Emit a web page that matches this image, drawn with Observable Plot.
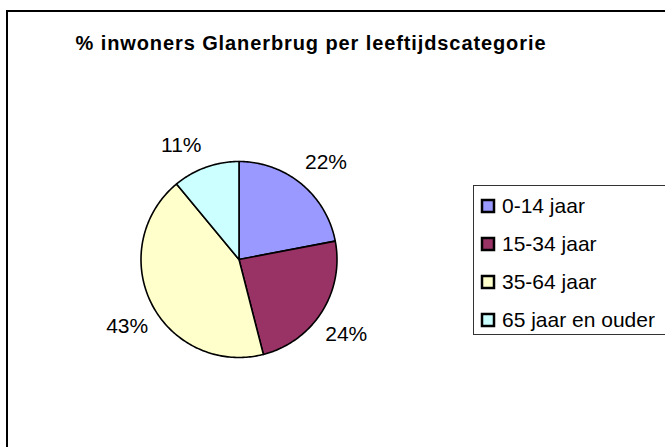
<!DOCTYPE html>
<html><head><meta charset="utf-8">
<script src="https://cdn.jsdelivr.net/npm/d3@7"></script>
<script src="https://cdn.jsdelivr.net/npm/@observablehq/plot@0.6"></script>
<style>
html,body{margin:0;padding:0;background:#fff;overflow:hidden;}
#wrap{position:relative;width:665px;height:447px;overflow:hidden;font-family:"Liberation Sans",Arial,sans-serif;}
#frame{position:absolute;left:6px;top:10px;width:720px;height:500px;border:2px solid #000;box-sizing:border-box;}
#title{position:absolute;left:0;top:31px;width:622px;text-align:center;font-weight:bold;font-size:20px;line-height:24px;letter-spacing:0.9px;color:#000;}
#chart{position:absolute;left:0;top:0;}
#legend{position:absolute;left:473px;top:185px;width:210px;height:150px;border:1px solid #333;box-sizing:border-box;padding:1px 0 0 8px;background:#fff;}
#legend .lg-swatches{font-family:"Liberation Sans",Arial,sans-serif;font-size:21px;margin:0;color:#000;}
#legend .lg-swatch{height:38px;display:flex;align-items:center;padding:0;margin:0;white-space:nowrap;}
#legend .lg-swatch svg{margin-right:8px;}
#legend svg rect{stroke:#000;stroke-width:2.5px;}
</style></head>
<body>
<div id="wrap">
  <div id="frame"></div>
  <div id="chart"></div>
  <div id="title">% inwoners Glanerbrug per leeftijdscategorie</div>
  <div id="legend"></div>
</div>
<script>
const categories = ["0-14 jaar", "15-34 jaar", "35-64 jaar", "65 jaar en ouder"];
const values = [22, 24, 43, 11];
const labels = ["22%", "24%", "43%", "11%"];
const colors = ["#9999FF", "#993366", "#FFFFCC", "#CCFFFF"];

const arcs = d3.pie().sort(null).value(d => d)(values);

// wedge outlines in unit-circle coordinates (0 = top, clockwise)
const wedgePts = [];
arcs.forEach((a, i) => {
  wedgePts.push({cat: categories[i], x: 0, y: 0});
  const n = Math.max(2, Math.ceil((a.endAngle - a.startAngle) / (Math.PI / 180)));
  for (let k = 0; k <= n; k++) {
    const t = a.startAngle + (a.endAngle - a.startAngle) * k / n;
    wedgePts.push({cat: categories[i], x: Math.sin(t), y: Math.cos(t)});
  }
});

// outside-end label placement: edge point plus an offset toward the outer corner
const offX = 0.25, offY = 0.225;
const labelPts = arcs.map((a, i) => {
  const m = (a.startAngle + a.endAngle) / 2;
  const sx = Math.sin(m), sy = Math.cos(m);
  return {label: labels[i], x: sx + offX * Math.sign(sx), y: sy + offY * Math.sign(sy)};
});

const chart = Plot.plot({
  width: 665,
  height: 447,
  marginLeft: 140.5,
  marginRight: 328.5,
  marginTop: 161,
  marginBottom: 90,
  x: {domain: [-1, 1], axis: null},
  y: {domain: [-1, 1], axis: null},
  color: {domain: categories, range: colors},
  style: {background: "transparent", overflow: "visible"},
  marks: [
    Plot.line(wedgePts, {x: "x", y: "y", z: "cat", fill: "cat", stroke: "#000", strokeWidth: 1.6, curve: "linear-closed", strokeLinejoin: "round"}),
    Plot.text(labelPts, {x: "x", y: "y", text: "label", fontSize: 21, fill: "#000", fontFamily: "Liberation Sans, Arial, sans-serif"})
  ]
});
document.getElementById("chart").appendChild(chart);

const leg = chart.legend("color", {legend: "swatches", columns: 1, className: "lg", swatchSize: 12});
document.getElementById("legend").appendChild(leg);
</script>
</body></html>
